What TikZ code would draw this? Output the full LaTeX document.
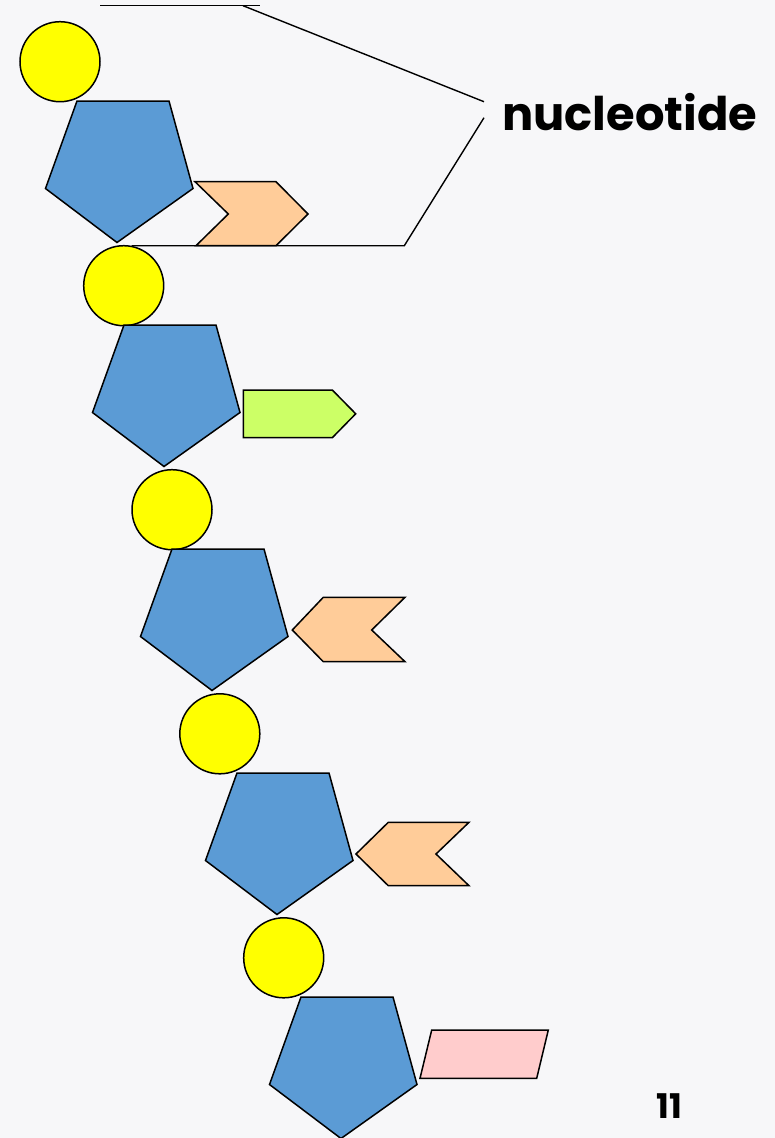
\documentclass[tikz,border=0pt]{standalone}
\usepackage{fontspec}
\usepackage{graphicx}
\newfontfamily\labelfont{Poppins}
\definecolor{bgc}{RGB}{247,247,249}
\definecolor{phos}{RGB}{255,255,0}
\definecolor{sugar}{RGB}{91,155,213}
\definecolor{peach}{RGB}{255,204,153}
\definecolor{lime}{RGB}{204,255,102}
\definecolor{rose}{RGB}{255,204,204}
\tikzset{
  phosnode/.style={circle, draw=black, line width=1.5pt, fill=phos, minimum size=80pt, inner sep=0pt},
  shapeline/.style={draw=black, line width=1.5pt, line join=miter},
  bracket/.style={draw=black, line width=1.4pt},
  sugarpic/.pic={\path[shapeline, fill=sugar] (0,0) -- (92,0) -- (116,87.5) -- (40,141.5) -- (-31.5,87.5) -- cycle;}
}
\begin{document}
\begin{tikzpicture}[x=1pt,y=-1pt]
\path[fill=bgc] (0,0) rectangle (775,1138);
\useasboundingbox (0,0) rectangle (775,1138);
% phosphates
\node[phosnode] (c1) at (60,61.7) {};
\node[phosnode] (c2) at (123.7,285.7) {};
\node[phosnode] (c3) at (172,509.7) {};
\node[phosnode] (c4) at (219.8,733.8) {};
\node[phosnode] (c5) at (283.7,957.8) {};
% sugars
\pic at (77,101) {sugarpic};
\pic at (124,325) {sugarpic};
\pic at (172,549) {sugarpic};
\pic at (237,773) {sugarpic};
\pic at (301,997) {sugarpic};
% bases
\path[shapeline, fill=peach] (195,181.7) -- (276,181.7) -- (308,214) -- (276,245.7) -- (196,245.7) -- (228.3,214) -- cycle;
\path[shapeline, fill=lime] (243.3,390) -- (332.3,390) -- (355.7,413.8) -- (332.3,437.7) -- (243.3,437.7) -- cycle;
\path[shapeline, fill=peach] (292.3,630) -- (323.3,597.3) -- (405,597.3) -- (371.7,630) -- (405,661.7) -- (323.3,661.7) -- cycle;
\path[shapeline, fill=peach] (356,854) -- (388.3,822.3) -- (469,822.3) -- (436,854) -- (469,885.7) -- (388.3,885.7) -- cycle;
\path[shapeline, fill=rose] (431.7,1030) -- (548.3,1030) -- (536.7,1078.3) -- (420,1078.3) -- cycle;
% label
\node[anchor=base west, inner sep=0pt] (lab) at (502,130) {\resizebox{255pt}{!}{\labelfont\bfseries nucleotide}};
\coordinate (t1) at (100,5.7);
\coordinate (t2) at (260,5.7);
\coordinate (t3) at (243,5.7);
\coordinate (u1) at (484,101.7);
\coordinate (u2) at (484,117.7);
\coordinate (b1) at (404.3,245.7);
\coordinate (b2) at (131.7,245.7);
\draw[bracket] (t1) -- (t2);
\draw[bracket] (t3) -- (u1);
\draw[bracket] (u2) -- (b1) -- (b2);
% page number
\node[inner sep=0pt] (pg) at (669,1106) {\fontsize{34}{40}\selectfont\labelfont\bfseries 11};
\end{tikzpicture}
\end{document}
